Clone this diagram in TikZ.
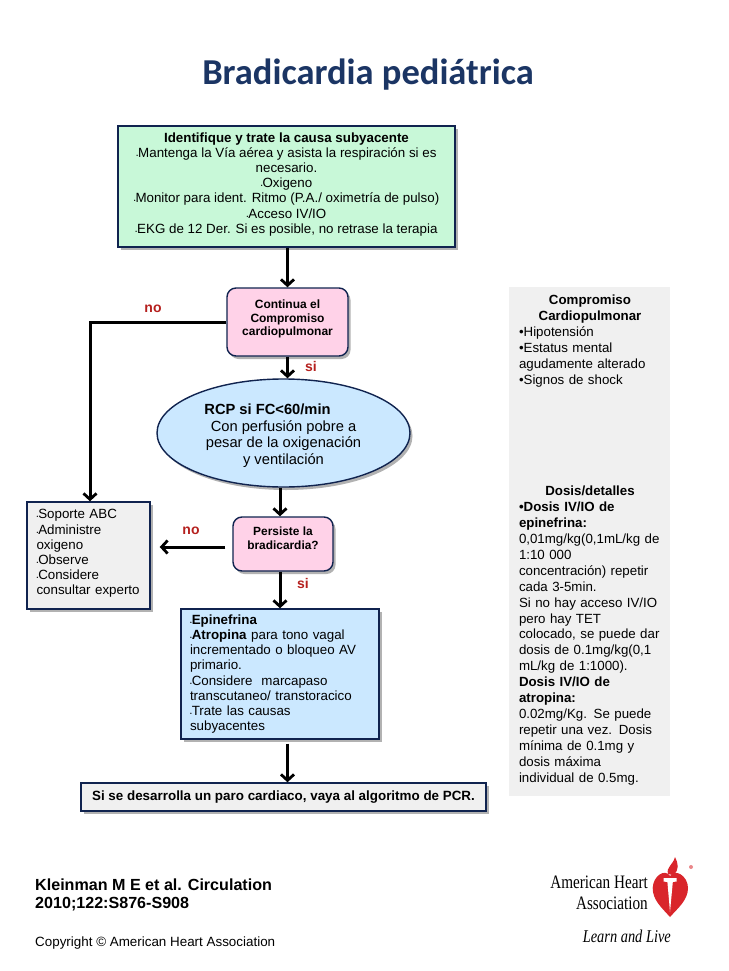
\documentclass[tikz,border=0pt]{standalone}
\usepackage{fontspec}
\setmainfont{Liberation Sans}
\newfontfamily\titlefont{Carlito}
\newfontfamily\logofont[FakeStretch=0.8]{Liberation Serif}
\usepackage{tikz}
\usetikzlibrary{arrows.meta, shapes.geometric, shadows, positioning}
\definecolor{navy}{HTML}{10234F}
\definecolor{titleblue}{HTML}{1B3564}
\definecolor{mint}{HTML}{C8F8D8}
\definecolor{rosa}{HTML}{FFD2E8}
\definecolor{sky}{HTML}{CBE8FF}
\definecolor{panel}{HTML}{F0F0F0}
\definecolor{labelred}{HTML}{B5201E}
\definecolor{logored}{HTML}{D9252B}
\newcommand{\pt}{{\fontsize{5}{5}\selectfont •}}
\newcommand{\lift}[1]{\rule[-#1]{0pt}{#1}}
\begin{document}
\begin{tikzpicture}
    [
        x=1pt, y=-1pt,
        body/.style={font=\fontsize{13.35}{15.1}\selectfont},
        shade/.style={drop shadow={shadow xshift=2.5pt, shadow yshift=-3pt, fill=black, opacity=0.3}},
        box/.style={rectangle, draw=navy, line width=1.4pt, inner sep=0pt, shade, body},
        decision/.style={rectangle, rounded corners=9pt, draw=navy, line width=1.4pt, fill=rosa, inner sep=0pt, shade, align=center},
        link/.style={line width=3pt, -{Straight Barb[length=6pt, width=13pt, line width=2.8pt]}},
        answer/.style={text=labelred, font=\fontsize{14}{15}\selectfont\bfseries},
        side/.style={font=\fontsize{13.3}{15.9}\selectfont, inner sep=0pt},
    ]
    \useasboundingbox (0,0) rectangle (728,971);

    \node (title) at (368,75) [text=titleblue, font=\titlefont\bfseries\fontsize{36.5}{40}\selectfont] {Bradicardia pediátrica};

    % flow boxes
    \node (causa) at (286.5,186.5) [box, fill=mint, minimum width=337pt, minimum height=121pt, align=center]
        {\textbf{Identifique y trate la causa subyacente}\\
        \pt Mantenga la Vía aérea y asista la respiración si es\\
        necesario.\\
        \pt Oxigeno\\
        \pt Monitor para ident. Ritmo (P.A./ oximetría de pulso)\\
        \pt Acceso IV/IO\\
        \pt EKG de 12 Der. Si es posible, no retrase la terapia\lift{7pt}};
    \node (compromiso) at (287.5,322) [decision, minimum width=121pt, minimum height=68pt, font=\fontsize{12}{13.6}\selectfont\bfseries]
        {Continua el\\Compromiso\\cardiopulmonar\lift{8pt}};
    \node (rcp) at (283.5,433) [ellipse, draw=navy, line width=1.4pt, fill=sky, inner sep=0pt, minimum width=253pt, minimum height=108pt, shade, align=center, font=\fontsize{14.7}{16.7}\selectfont]
        {\rule{0pt}{16pt}\textbf{RCP si FC<60/min}\hspace*{32pt}\\Con perfusión pobre a\\pesar de la oxigenación\\y ventilación};
    \node (soporte) at (88.5,555.5) [box, fill=panel, minimum width=123pt, minimum height=107pt, text width=104pt, align=left]
        {\pt Soporte ABC\\ \pt Administre\\oxigeno\\ \pt Observe\\ \pt Considere\\\mbox{consultar experto}\lift{7pt}};
    \node (persiste) at (283,544) [decision, minimum width=100pt, minimum height=54pt, font=\fontsize{11.9}{14}\selectfont\bfseries]
        {Persiste la\\bradicardia?\lift{12pt}};
    \node (drogas) at (280,674) [box, fill=sky, minimum width=198pt, minimum height=130pt, text width=180pt, align=left]
        {\pt\textbf{Epinefrina}\\ \pt\textbf{Atropina} para tono vagal\\incrementado o bloqueo AV\\primario.\\ \pt Considere\ \ marcapaso\\transcutaneo/ transtoracico\\ \pt Trate las causas\\subyacentes};
    \node (paro) at (283.5,797) [box, fill=panel, minimum width=405pt, minimum height=28pt, font=\fontsize{13.4}{15}\selectfont\bfseries]
        {Si se desarrolla un paro cardiaco, vaya al algoritmo de PCR.};

    % connectors
    \coordinate (bend) at (90,322);
    \draw [link] (causa.south -| compromiso.north) -- (compromiso.north);
    \draw [link] (compromiso.south) -- (compromiso.south |- rcp.north);
    \draw [link] (compromiso.west) -- (bend) -- (bend |- soporte.north);
    \draw [link] (rcp.south -| drogas.north) -- (persiste.north -| drogas.north);
    \draw [link, shorten <=7pt, shorten >=9pt] (persiste.west |- 233,547) -- (soporte.east |- 150,547);
    \draw [link] (persiste.south -| drogas.north) -- (drogas.north);
    \draw [link, shorten <=4pt] (drogas.south -| compromiso.south) -- (paro.north -| compromiso.south);

    \node (no one) at (153,309) [answer] {no};
    \node (si one) at (311,366) [answer] {si};
    \node (no two) at (191,531) [answer] {no};
    \node (si two) at (303,583) [answer] {si};

    % right column
    \node (panel) at (589.5,541.5) [rectangle, fill=panel, minimum width=161pt, minimum height=509pt] {};
    \node (signos) at (590,341) [side, text width=142pt, align=left]
        {{\centering\textbf{Compromiso}\\\textbf{Cardiopulmonar}\par}
        •Hipotensión\\
        •Estatus mental\\
        agudamente alterado\\
        •Signos de shock};
    \node (dosis) at (590,635.5) [side, text width=142pt, align=left]
        {{\centering\textbf{Dosis/detalles}\par}
        \textbf{•Dosis IV/IO de}\\
        \textbf{epinefrina:}\\
        0,01mg/kg(0,1mL/kg de\\
        1:10 000\\
        concentración) repetir\\
        cada 3-5min.\\
        Si no hay acceso IV/IO\\
        pero hay TET\\
        colocado, se puede dar\\
        dosis de 0.1mg/kg(0,1\\
        mL/kg de 1:1000).\\
        \textbf{Dosis IV/IO de}\\
        \textbf{atropina:}\\
        0.02mg/Kg. Se puede\\
        repetir una vez. Dosis\\
        mínima de 0.1mg y\\
        dosis máxima\\
        individual de 0.5mg.};

    % footer
    \node (cita) at (35,895) [anchor=west, inner sep=0pt, align=left, font=\fontsize{16.1}{18.4}\selectfont\bfseries]
        {Kleinman M E et al. Circulation\\2010;122:S876-S908};
    \node (copyright) at (35,943) [anchor=west, inner sep=0pt, font=\fontsize{13.4}{15}\selectfont]
        {Copyright © American Heart Association};

    % logo
    \fill [logored] (670,917) .. controls (662,908) and (652.5,900) .. (652.7,888)
        .. controls (653,876) and (665,868) .. (670,876)
        .. controls (675,868) and (688,876) .. (688,888)
        .. controls (688,900) and (678,908) .. (670,917) -- cycle;
    \fill [logored] (668,874) .. controls (666,867) and (673,865) .. (675,857)
        .. controls (678,863) and (680,870) .. (673,875) -- cycle;
    \fill [white] (663.5,878) -- (676.5,878) -- (676.5,881.5) -- (672.8,882) -- (670,912) -- (667.4,882) -- (663.5,881.5) -- cycle;
    \fill [logored!55] (691,867) circle (2pt);
    \node (aha one) at (648,888) [anchor=base east, inner sep=0pt, font=\logofont\fontsize{19}{20}\selectfont] {American Heart};
    \node (aha two) at (648,909) [anchor=base east, inner sep=0pt, font=\logofont\fontsize{19}{20}\selectfont] {Association};
    \node (aha three) at (671,942) [anchor=base east, inner sep=0pt, font=\logofont\itshape\fontsize{18}{20}\selectfont] {Learn and Live};
\end{tikzpicture}
\end{document}
